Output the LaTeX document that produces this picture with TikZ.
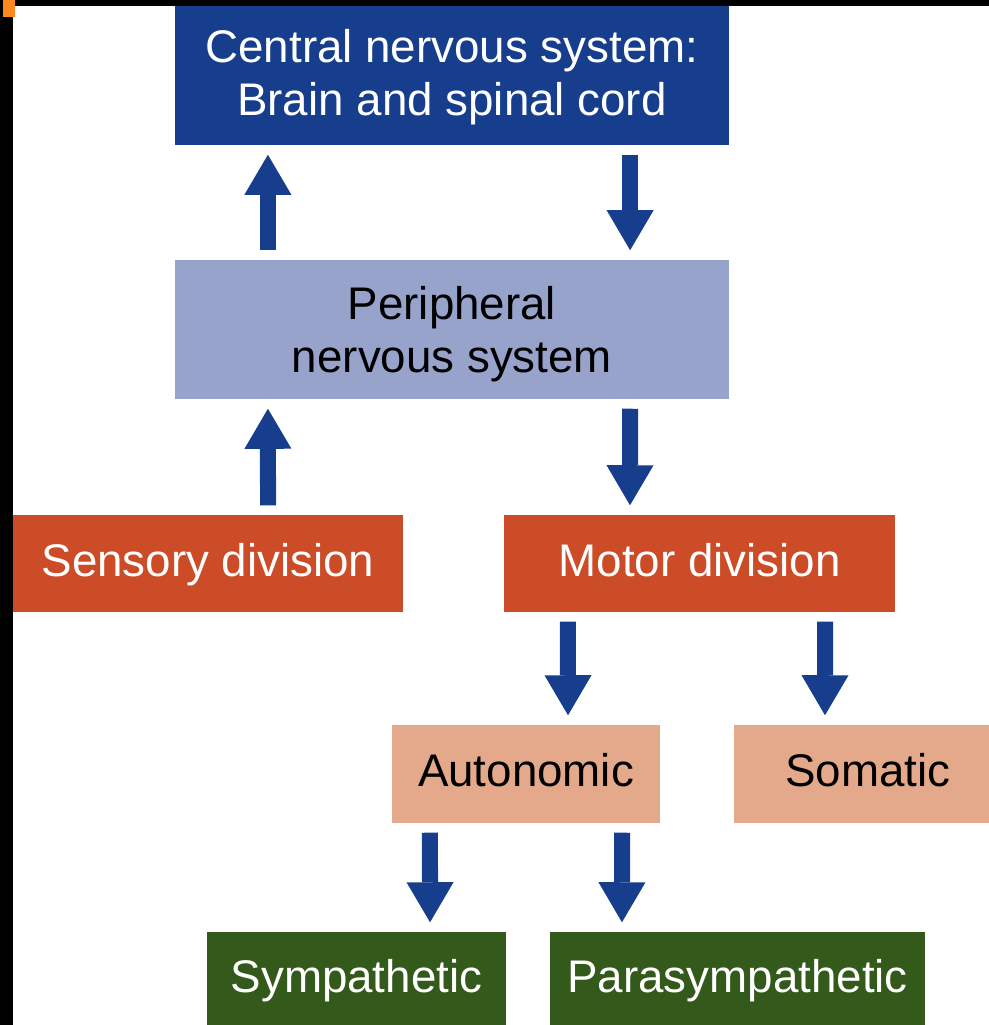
\documentclass[tikz,border=0pt]{standalone}
\usepackage{fontspec}
\setmainfont{Liberation Sans}
\usetikzlibrary{arrows.meta}
\definecolor{cnsblue}{RGB}{23,62,140}
\definecolor{pnsblue}{RGB}{152,163,204}
\definecolor{divred}{RGB}{204,76,40}
\definecolor{subsalmon}{RGB}{227,169,138}
\definecolor{autogreen}{RGB}{52,90,27}
\definecolor{markorange}{RGB}{255,136,30}

\begin{document}
\begin{tikzpicture}[x=0.01cm, y=-0.01cm,
    box/.style={rectangle, inner sep=0pt, align=center, font=\fontsize{13}{15}\selectfont},
    one line/.style={text height=0.73em, text depth=0pt},
    cns node/.style={box, text depth=0pt, fill=cnsblue, text=white, minimum width=5.54cm, minimum height=1.45cm},
    pns node/.style={box, text depth=0pt, fill=pnsblue, text=black, minimum width=5.54cm, minimum height=1.39cm},
    division node/.style={box, one line, fill=divred, text=white, minimum width=3.90cm, minimum height=0.97cm},
    branch node/.style={box, one line, fill=subsalmon, text=black, minimum width=2.68cm, minimum height=0.98cm},
    leaf node/.style={box, one line, fill=autogreen, text=white, minimum height=0.95cm},
    big arrow/.style={color=cnsblue, line width=0.16cm,
        -{Triangle[width=0.47cm,length=0.40cm,line width=0pt]},
        shorten <=0.09cm, shorten >=0.09cm}]
        \useasboundingbox (0,0) rectangle (989,1025);

        \node[cns node] (cns) at (452,72.5) {Central nervous system:\\Brain and spinal cord};
        \node[pns node] (pns) at (452,329.5) {Peripheral\\nervous system};
        \node[division node] (sensory) at (208,563.5) {Sensory division};
        \node[division node] (motor) at (699.5,563.5) {Motor division};
        \node[branch node] (autonomic) at (526,774) {Autonomic};
        \node[branch node] (somatic) at (868,774) {Somatic};
        \node[leaf node, minimum width=2.99cm] (sympathetic) at (356.5,979.5) {Sympathetic};
        \node[leaf node, minimum width=3.75cm] (parasympathetic) at (737.5,979.5) {Parasympathetic};

        \path[big arrow]
        ([xshift=-1.84cm]pns.north) edge ([xshift=-1.84cm]cns.south)
        ([xshift=1.78cm]cns.south) edge ([xshift=1.78cm]pns.north)
        ([xshift=0.60cm]sensory.north) edge ([xshift=-1.84cm]pns.south)
        ([xshift=1.78cm]pns.south) edge ([xshift=-0.695cm]motor.north)
        ([xshift=-1.315cm]motor.south) edge ([xshift=0.42cm]autonomic.north)
        ([xshift=1.255cm]motor.south) edge ([xshift=-0.43cm]somatic.north)
        ([xshift=-0.96cm]autonomic.south) edge ([xshift=0.735cm]sympathetic.north)
        ([xshift=0.96cm]autonomic.south) edge ([xshift=-1.155cm]parasympathetic.north);

        % frame strips
        \fill[black] (0,0) rectangle (989,6);
        \fill[black] (0,0) rectangle (13,1025);
        \fill[markorange] (3,0) rectangle (15,17);

    \end{tikzpicture}
\end{document}
